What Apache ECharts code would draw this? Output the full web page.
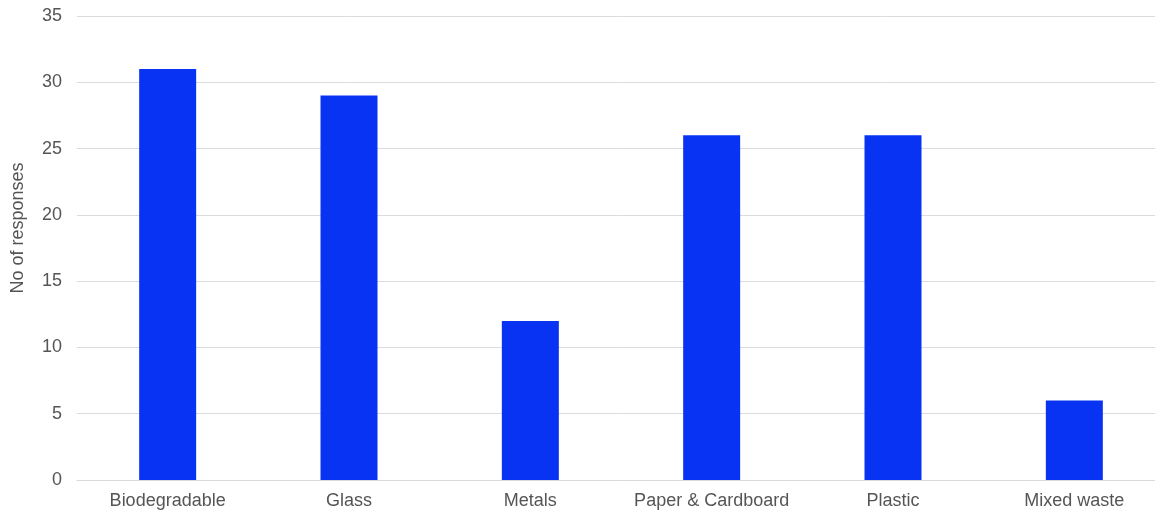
<!DOCTYPE html>
<html>
<head>
<meta charset="utf-8">
<script src="https://cdn.jsdelivr.net/npm/echarts@6/dist/echarts.min.js"></script>
<style>
html,body{margin:0;padding:0;background:#fff;}
#chart{width:1155px;height:516px;}
</style>
</head>
<body>
<div id="chart"></div>
<script>
const categories = ['Biodegradable', 'Glass', 'Metals', 'Paper & Cardboard', 'Plastic', 'Mixed waste'];
const responses = [31, 29, 12, 26, 26, 6];
const yTicks = { min: 0, max: 35, interval: 5 };
const yTitle = 'No of responses';

const FONT = 'Liberation Sans, Arial, sans-serif';
const chart = echarts.init(document.getElementById('chart'));
chart.setOption({
  animation: false,
  grid: { left: 77, right: -10, top: 16, bottom: 36, containLabel: false, outerBoundsMode: 'none' },
  graphic: [{
    type: 'text',
    x: 18,
    y: 228,
    rotation: Math.PI / 2,
    style: { text: yTitle, fill: '#555', font: '18px ' + FONT, align: 'center', verticalAlign: 'middle' },
    originX: 0, originY: 0
  }],
  xAxis: {
    type: 'category',
    data: categories,
    axisLine: { show: true, lineStyle: { color: '#d9d9d9' } },
    axisTick: { show: false },
    axisLabel: { interval: 0, color: '#555', fontSize: 18, fontFamily: FONT, margin: 12 }
  },
  yAxis: {
    type: 'value',
    min: yTicks.min, max: yTicks.max, interval: yTicks.interval,
    axisLine: { show: false },
    axisTick: { show: false },
    splitLine: { lineStyle: { color: '#dcdcdc' } },
    axisLabel: { color: '#555', fontSize: 18, fontFamily: FONT, margin: 15 }
  },
  series: [{
    type: 'bar',
    data: responses,
    barWidth: 57,
    itemStyle: { color: '#0833f2' }
  }]
});
</script>
</body>
</html>
